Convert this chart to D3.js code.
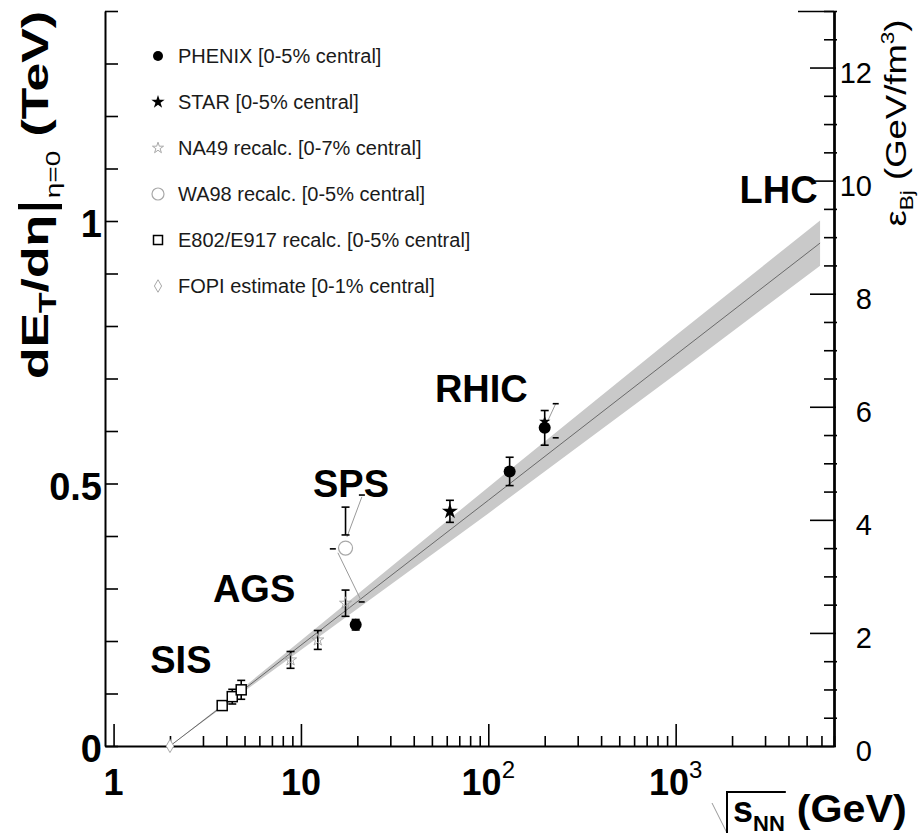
<!DOCTYPE html>
<html><head><meta charset="utf-8">
<script src="https://cdn.jsdelivr.net/npm/d3@7"></script>
<style>body{margin:0;background:#fff} svg{display:block} text{font-family:"Liberation Sans",Arial,Helvetica,sans-serif}</style>
</head><body><svg id="c" width="921" height="836"></svg>
<script>
// ---------------- data ----------------
const phenix = [{s:19.6,v:0.231,e:0.010},{s:130,v:0.523,e:0.027},{s:200,v:0.606,e:0.033}];
const star   = [{s:62.4,v:0.447,e:0.021},{s:200,v:0.618,e:0}];
const na49   = [{s:8.8,v:0.164,e:0.016},{s:12.3,v:0.202,e:0.018},{s:17.3,v:0.272,e:0.025}];
const wa98   = [{s:17.3,v:0.377,eHi:0.078,eLo:0}];
const e802   = [{s:3.8,v:0.077,e:0.008},{s:4.3,v:0.094,e:0.014},{s:4.8,v:0.107,e:0.018}];
const fopi   = [{s:2.0,v:0.0}];
const fitS   = [2, 4, 10, 100, 1000, 5900];
const fitV   = [0, 0.082, 0.192, 0.468, 0.745, 0.958];
const fitErr = [0, 0.003, 0.009, 0.025, 0.037, 0.043];
const regionNames = ["SIS","AGS","SPS","RHIC","LHC"];
const regionS     = [1.57, 3.39, 11.6, 51.9, 2193];
const regionV     = [0.139, 0.274, 0.4745, 0.656, 1.035];
const pointerLines = [[[21.15,0.4746],[17.6,0.398]],[[15.75,0.368],[20.9,0.278]],[[207.5,0.619],[229,0.652]]];
const sysDashes = [[21.15,0.478],[14.8,0.3755],[21.1,0.2744],[229,0.652],[229,0.587]];
const legendLabels = ["PHENIX [0-5% central]","STAR [0-5% central]","NA49 recalc. [0-7% central]","WA98 recalc. [0-5% central]","E802/E917 recalc. [0-5% central]","FOPI estimate [0-1% central]"];
const xMajor = [1,10,100,1000];
const xLabelBase = ["1","10","10","10"];
const xLabelExp  = ["","","2","3"];
const yMajor = [0,0.5,1];
const yLabels = ["0","0.5","1"];
const rMajor = [0,2,4,6,8,10,12];
const rLabels = ["0","2","4","6","8","10","12"];

// ---------------- scales ----------------
const svg = d3.select("#c");
const x  = d3.scaleLog().domain([0.9,7000]).range([105,834]);
const y  = d3.scaleLinear().domain([0,1.4]).range([746,11]);
const yR = d3.scaleLinear().domain([0,13]).range([746,11]);

// ---------------- fit band + line ----------------
const fit = fitS.map((s,i)=>({s, v:fitV[i], e:fitErr[i]}));
svg.append("path").datum(fit)
  .attr("d", d3.area().x(d=>x(d.s)).y0(d=>y(d.v-d.e)).y1(d=>y(d.v+d.e)))
  .attr("fill","#c9c9c9");
svg.append("path").datum(fit)
  .attr("d", d3.line().x(d=>x(d.s)).y(d=>y(d.v)))
  .attr("fill","none").attr("stroke","#6a6a6a").attr("stroke-width",1);

// ---------------- axes ----------------
const xMinor = [];
[1,10,100,1000].forEach(d=>{ for(let k=2;k<=9;k++){ if(d*k<=7000) xMinor.push(d*k); } });
const gx = svg.append("g").attr("transform","translate(0,746)").attr("color","#000");
gx.call(d3.axisBottom(x).tickValues(xMinor).tickSize(-10).tickSizeOuter(0).tickFormat(""));
gx.call(g=>g.select(".domain").remove());
const gx2 = svg.append("g").attr("transform","translate(0,746)").attr("color","#000");
gx2.call(d3.axisBottom(x).tickValues(xMajor).tickSize(-22).tickSizeOuter(0).tickFormat(""));

const yTicks = d3.range(0,15).map(i=>i/10);
const gy = svg.append("g").attr("transform","translate(105,0)").attr("color","#000");
gy.call(d3.axisLeft(y).tickValues(yTicks).tickSize(-13).tickSizeOuter(0).tickFormat(""));

const rMinor = d3.range(0,27).map(i=>i/2).filter(v=>v%2!==0);
const gr = svg.append("g").attr("transform","translate(834,0)").attr("color","#000");
gr.call(d3.axisRight(yR).tickValues(rMinor).tickSize(-10).tickSizeOuter(0).tickFormat(""));
gr.selectAll(".tick line").attr("x1",3);
const gr2 = svg.append("g").attr("transform","translate(834,0)").attr("color","#000");
gr2.call(d3.axisRight(yR).tickValues(rMajor).tickSize(-24).tickSizeOuter(0).tickFormat(""));
gr2.selectAll(".tick line").attr("x1",2);
const gr3 = svg.append("g").attr("transform","translate(834,0)").attr("color","#000");
gr3.call(d3.axisRight(yR).tickValues([13]).tickSize(-36).tickSizeOuter(0).tickFormat(""));

svg.selectAll(".domain").attr("stroke-width",2);
svg.selectAll(".tick line").attr("stroke-width",1.6);

// tick labels
xMajor.forEach((v,i)=>{
  const t = svg.append("text").attr("x",x(v)).attr("y",795).attr("text-anchor","middle")
    .attr("font-size",36).attr("font-weight","bold").attr("fill","#000");
  t.append("tspan").text(xLabelBase[i]);
  if (xLabelExp[i]) t.append("tspan").attr("dy",-17).attr("font-size",24).attr("font-weight","normal").text(xLabelExp[i]);
});
yMajor.forEach((v,i)=>{
  svg.append("text").attr("x",102).attr("y",y(v)+16).attr("text-anchor","end")
    .attr("font-size",38).attr("font-weight","bold").text(yLabels[i]);
});
rMajor.forEach((v,i)=>{
  svg.append("text").attr("x",872).attr("y",yR(v)+15).attr("text-anchor","end")
    .attr("font-size",29).text(rLabels[i]);
});

// axis titles
const lt = svg.append("text").attr("transform","translate(48,195) rotate(-90)")
  .attr("text-anchor","middle").attr("font-size",37).attr("font-weight","bold")
  .attr("textLength",368).attr("lengthAdjust","spacingAndGlyphs");
lt.append("tspan").text("dE");
lt.append("tspan").attr("font-size",24).attr("dy",8).text("T");
lt.append("tspan").attr("dy",-8).text("/d\u03b7");
lt.append("tspan").attr("font-weight","normal").attr("font-size",46).attr("dy",4).text("|");
lt.append("tspan").attr("font-size",20).attr("font-weight","normal").attr("dy",8).text("\u03b7=0");
lt.append("tspan").attr("dy",-12).text(" (TeV)");

const rt = svg.append("text").attr("transform","translate(906,123) rotate(-90)")
  .attr("text-anchor","middle").attr("font-size",29)
  .attr("textLength",207).attr("lengthAdjust","spacingAndGlyphs");
rt.append("tspan").text("\u03b5");
rt.append("tspan").attr("font-size",18).attr("dy",7).text("Bj");
rt.append("tspan").attr("dy",-7).text(" (GeV/fm");
rt.append("tspan").attr("font-size",18).attr("dy",-12).text("3");
rt.append("tspan").attr("dy",12).text(")");

const bt = svg.append("text").attr("x",733).attr("y",822).attr("font-size",36).attr("font-weight","bold");
bt.append("tspan").text("s");
bt.append("tspan").attr("font-size",22).attr("dy",9).text("NN");
const bbS = bt.node().getBBox();
svg.append("text").attr("x",bbS.x+bbS.width+12).attr("y",822)
  .attr("font-size",38).attr("font-weight","bold")
  .attr("textLength",110).attr("lengthAdjust","spacingAndGlyphs").text("(GeV)");
const vx = bbS.x - 6;
svg.append("path").attr("d",`M${vx-15},803 L${vx},833`).attr("stroke","#999").attr("stroke-width",1).attr("fill","none");
svg.append("path").attr("d",`M${vx},833 V792 H${bbS.x+bbS.width+1}`).attr("stroke","#000").attr("stroke-width",2).attr("fill","none");

// region labels
regionNames.forEach((n,i)=>{
  svg.append("text").attr("x",x(regionS[i])).attr("y",y(regionV[i]))
    .attr("font-size",38).attr("font-weight","bold").text(n);
});

// pointer lines & systematic dashes
pointerLines.forEach(p=>{
  svg.append("path").attr("d",d3.line().x(d=>x(d[0])).y(d=>y(d[1]))(p))
    .attr("stroke","#9a9a9a").attr("stroke-width",1).attr("fill","none");
});
sysDashes.forEach(d=>{
  svg.append("line").attr("x1",x(d[0])-3).attr("x2",x(d[0])+3).attr("y1",y(d[1])).attr("y2",y(d[1]))
    .attr("stroke","#000").attr("stroke-width",1.6);
});

// ---------------- error bars ----------------
function errBar(s,lo,hi){
  const g = svg.append("g").attr("stroke","#000").attr("stroke-width",1.6);
  g.append("line").attr("x1",x(s)).attr("x2",x(s)).attr("y1",y(lo)).attr("y2",y(hi));
  g.append("line").attr("x1",x(s)-4).attr("x2",x(s)+4).attr("y1",y(hi)).attr("y2",y(hi));
  if (lo < hi) g.append("line").attr("x1",x(s)-4).attr("x2",x(s)+4).attr("y1",y(lo)).attr("y2",y(lo));
}
na49.forEach(d=>errBar(d.s,d.v-d.e,d.v+d.e));
e802.forEach(d=>errBar(d.s,d.v-d.e,d.v+d.e));
phenix.forEach(d=>errBar(d.s,d.v-d.e,d.v+d.e));
star.filter(d=>d.e>0).forEach(d=>errBar(d.s,d.v-d.e,d.v+d.e));
wa98.forEach(d=>errBar(d.s,d.v+0.025,d.v+d.eHi));

// ---------------- markers ----------------
const sym = (type,size)=>d3.symbol().type(type).size(size)();
svg.selectAll(".na49").data(na49).join("path")
  .attr("transform",d=>`translate(${x(d.s)},${y(d.v)})`).attr("d",sym(d3.symbolStar,45))
  .attr("fill","none").attr("stroke","#a8a8a8").attr("stroke-width",1);
svg.selectAll(".wa98").data(wa98).join("circle")
  .attr("cx",d=>x(d.s)).attr("cy",d=>y(d.v)).attr("r",7)
  .attr("fill","#fff").attr("stroke","#a8a8a8").attr("stroke-width",1.2);
svg.selectAll(".e802").data(e802).join("rect")
  .attr("x",d=>x(d.s)-5).attr("y",d=>y(d.v)-5).attr("width",10).attr("height",10)
  .attr("fill","#fff").attr("stroke","#000").attr("stroke-width",1.5);
svg.selectAll(".fopi").data(fopi).join("path")
  .attr("transform",d=>`translate(${x(d.s)},${y(d.v)})`).attr("d",sym(d3.symbolDiamond,50))
  .attr("fill","#fff").attr("stroke","#a8a8a8").attr("stroke-width",1);
svg.selectAll(".phenix").data(phenix).join("circle")
  .attr("cx",d=>x(d.s)).attr("cy",d=>y(d.v)).attr("r",6).attr("fill","#000");
svg.selectAll(".star").data(star).join("path")
  .attr("transform",d=>`translate(${x(d.s)},${y(d.v)})`).attr("d",(d,i)=>sym(d3.symbolStar,i===0?80:40))
  .attr("fill","#000");

// ---------------- legend ----------------
const legX = 158, legTX = 178, legY0 = 56, legDY = 46;
const lg = svg.append("g");
legendLabels.forEach((t,i)=>{
  lg.append("text").attr("x",legTX).attr("y",legY0+i*legDY+7).attr("font-size",20).attr("fill","#1a1a1a").text(t);
});
const ly = i=>legY0+i*legDY;
lg.append("circle").attr("cx",legX).attr("cy",ly(0)).attr("r",5).attr("fill","#000");
lg.append("path").attr("transform",`translate(${legX},${ly(1)})`).attr("d",sym(d3.symbolStar,55)).attr("fill","#000");
lg.append("path").attr("transform",`translate(${legX},${ly(2)})`).attr("d",sym(d3.symbolStar,38)).attr("fill","none").attr("stroke","#a8a8a8");
lg.append("circle").attr("cx",legX).attr("cy",ly(3)).attr("r",6).attr("fill","none").attr("stroke","#a8a8a8").attr("stroke-width",1.2);
lg.append("rect").attr("x",legX-4.5).attr("y",ly(4)-4.5).attr("width",9).attr("height",9).attr("fill","none").attr("stroke","#000").attr("stroke-width",1.5);
lg.append("path").attr("transform",`translate(${legX},${ly(5)})`).attr("d",sym(d3.symbolDiamond,45)).attr("fill","none").attr("stroke","#a8a8a8");
</script></body></html>
